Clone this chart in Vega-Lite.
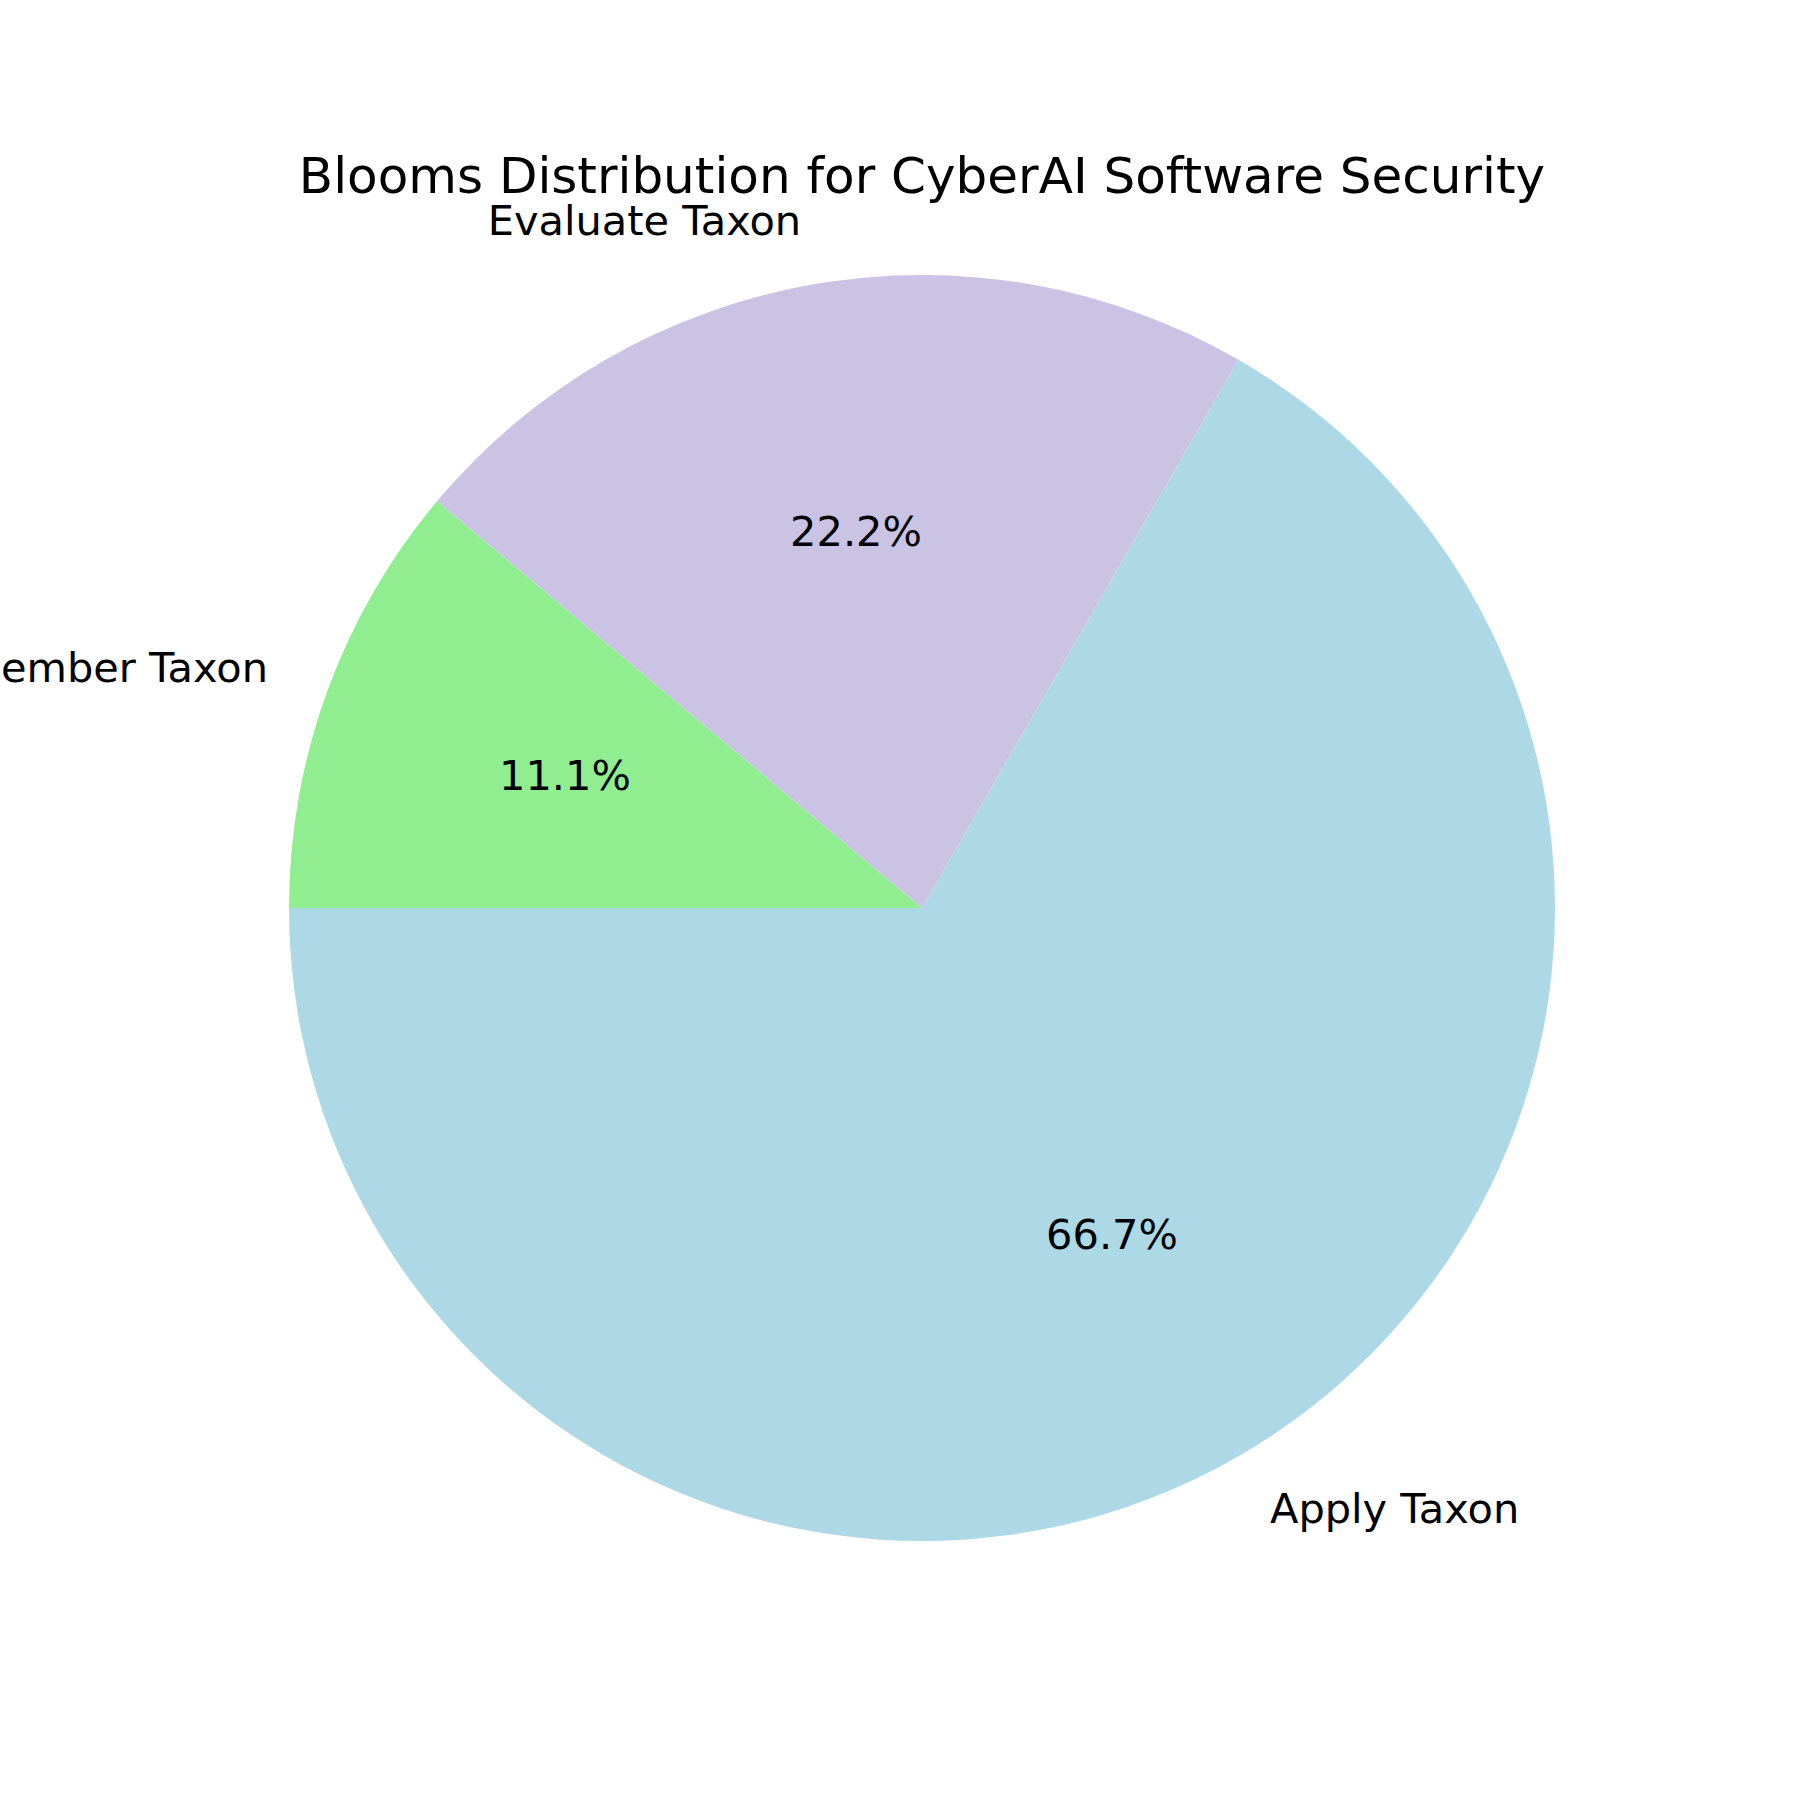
{
  "$schema": "https://vega.github.io/schema/vega-lite/v6.json",
  "autosize": {"type": "none"},
  "padding": {"left": 44, "top": 16, "right": 0, "bottom": 0},
  "width": 1756,
  "height": 1784,
  "background": "white",
  "config": {"view": {"stroke": null}, "font": "DejaVu Sans"},
  "title": {
    "text": "Blooms Distribution for CyberAI Software Security",
    "font": "DejaVu Sans",
    "fontSize": 50,
    "fontWeight": "normal",
    "color": "black",
    "anchor": "middle",
    "baseline": "alphabetic",
    "offset": -227
  },
  "data": {
    "values": [
      {"name": "Apply Taxon", "count": 6, "idx": 1, "pct": "66.7%"},
      {"name": "Remember Taxon", "count": 1, "idx": 2, "pct": "11.1%"},
      {"name": "Evaluate Taxon", "count": 2, "idx": 3, "pct": "22.2%"}
    ]
  },
  "encoding": {
    "theta": {"field": "count", "type": "quantitative", "stack": true, "scale": {"range": [0.5235988, 6.8067841]}},
    "order": {"field": "idx", "type": "quantitative"}
  },
  "layer": [
    {
      "mark": {"type": "arc", "outerRadius": 633, "strokeWidth": 0},
      "encoding": {
        "color": {
          "field": "name",
          "type": "nominal",
          "scale": {"domain": ["Apply Taxon", "Remember Taxon", "Evaluate Taxon"], "range": ["#ADD8E6", "#90EE90", "#CBC3E3"]},
          "legend": null
        }
      }
    },
    {
      "mark": {"type": "text", "radius": 380, "fontSize": 41.5, "font": "DejaVu Sans", "color": "black", "align": "center", "baseline": "middle"},
      "encoding": {"text": {"field": "pct", "type": "nominal"}}
    },
    {
      "mark": {"type": "text", "radius": 696, "fontSize": 41.5, "font": "DejaVu Sans", "color": "black", "align": "left", "baseline": "middle"},
      "encoding": {
        "text": {"field": "name", "type": "nominal"},
        "opacity": {"condition": {"test": "datum.name === 'Apply Taxon'", "value": 1}, "value": 0}
      }
    },
    {
      "mark": {"type": "text", "radius": 696, "fontSize": 41.5, "font": "DejaVu Sans", "color": "black", "align": "right", "baseline": "middle"},
      "encoding": {
        "text": {"field": "name", "type": "nominal"},
        "opacity": {"condition": {"test": "datum.name !== 'Apply Taxon'", "value": 1}, "value": 0}
      }
    }
  ]
}
